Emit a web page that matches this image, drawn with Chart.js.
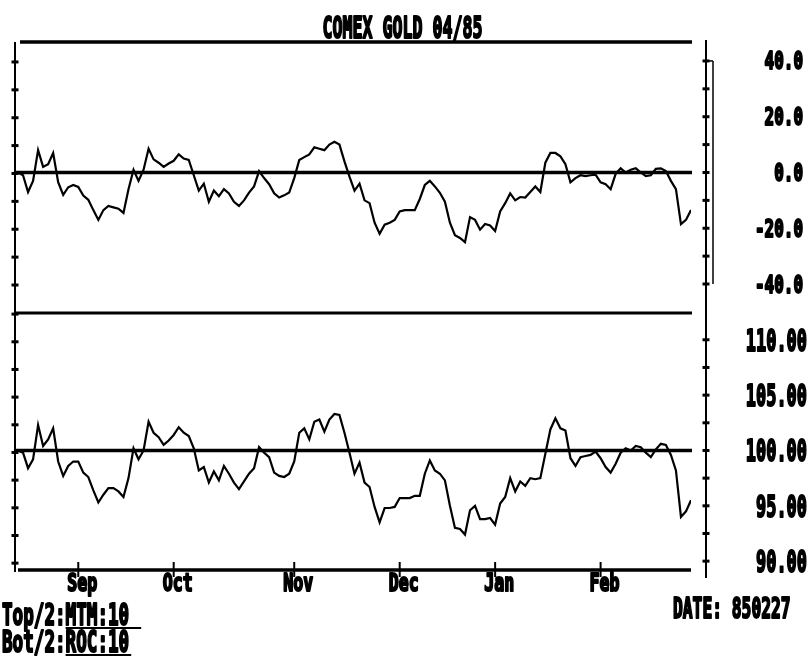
<!DOCTYPE html>
<html><head><meta charset="utf-8">
<script src="https://cdn.jsdelivr.net/npm/chart.js@4/dist/chart.umd.min.js"></script>
<style>html,body{margin:0;padding:0;background:#fff;}canvas{display:block;}</style>
</head><body>
<canvas id="c" width="809" height="656"></canvas>
<script>
// ---- data (one value per trading day) ----
const title = 'COMEX GOLD 04/85';
const mtm = [
 0, -1, -7, -3, 8, 2, 3, 7, -3.5, -8,
 -5.3, -4.5, -5.2, -8.3, -9.8, -13.5, -17, -13.5, -12, -12.5,
 -13, -14.5, -6, 1, -3, 1, 8.5, 4.7, 3.5, 2,
 3.2, 4.2, 6.5, 5, 4.5, -1, -6.5, -4, -10.5, -6.5,
 -8.5, -6, -7.5, -10.5, -12, -10, -7.2, -5, 0.5, -2,
 -4.2, -7.5, -9, -8.2, -7.2, -2, 4.5, 5.5, 6.5, 9,
 8.5, 8, 10, 11, 10, 4, -1.5, -6.5, -4, -10,
 -11, -18, -22, -18.7, -18, -17, -14, -13.5, -13.5, -13.5,
 -9.5, -4.5, -3, -5, -7.3, -10.5, -18, -22.5, -23.5, -25,
 -16, -17, -20.5, -18.5, -19, -21, -14, -11, -7.5, -10,
 -8.8, -9, -7, -5, -7, 3.5, 7, 7, 5.8, 3,
 -3.5, -2, -1, -1.3, -1, -0.8, -3.5, -4.2, -6, -0.5,
 1.5, 0, 1, 1.5, 0, -1.3, -1, 1.3, 1.5, 0.5,
 -3, -6, -18.5, -17, -13.5
];
const roc = [
 100, 99.8, 98.4, 99.2, 102.3, 100.4, 101, 102, 99, 97.7,
 98.6, 99, 99, 98, 97.6, 96.4, 95.3, 96, 96.6, 96.6,
 96.3, 95.8, 97.5, 100.2, 99.2, 100, 102.6, 101.6, 101.2, 100.5,
 100.9, 101.4, 102.1, 101.6, 101.3, 100.2, 98.2, 98.5, 97.1, 98.1,
 97.3, 98.6, 97.9, 97.1, 96.5, 97.2, 97.9, 98.4, 100.3, 99.8,
 99.4, 98, 97.7, 97.6, 97.9, 99, 101.6, 102, 101, 102.6,
 102.8, 101.7, 102.8, 103.3, 103.2, 101.6, 99.8, 97.9, 98.9, 97.1,
 96.7, 94.9, 93.5, 94.8, 94.8, 94.9, 95.7, 95.7, 95.7, 95.9,
 95.9, 97.9, 99.1, 98.2, 97.9, 97.3, 95, 93, 92.9, 92.4,
 94.6, 95, 93.8, 93.8, 93.9, 93.3, 95.2, 95.8, 97.5, 96.3,
 97.2, 96.8, 97.5, 97.4, 97.5, 99.7, 101.9, 102.9, 102, 101.8,
 99.3, 98.6, 99.4, 99.5, 99.6, 99.9, 99.3, 98.5, 98, 98.8,
 99.8, 100.2, 100, 100.4, 100.3, 99.8, 99.4, 100.1, 100.6, 100.5,
 99.6, 98.2, 94, 94.5, 95.5
];
const monthLabels = ['Sep', 'Oct', 'Nov', 'Dec', 'Jan', 'Feb'];
const monthStartIndex = [12, 31, 55, 76, 95, 116];
const topTickLabels = [40, 20, 0, -20, -40];
const topMinorTicks = [40, 30, 20, 10, 0, -10, -20, -30, -40];
const botTickLabels = [110, 105, 100, 95, 90];
const botMinorTicks = [112.5, 110, 107.5, 105, 102.5, 100, 97.5, 95, 92.5, 90];
const topRef = 0, botRef = 100;
const legendTop = ['Top/2:', 'MTM:10'];
const legendBot = ['Bot/2:', 'ROC:10'];
const dateLabel = 'DATE: 850227';

// ---- drawing helpers ----
const FONT = '"DejaVu Sans Mono", "Liberation Mono", monospace';
function txt(ctx, s, x, y, align, size, adv) {
  ctx.save();
  ctx.font = 'bold ' + size + 'px ' + FONT;
  ctx.textBaseline = 'alphabetic';
  ctx.textAlign = 'left';
  const sx = adv / ctx.measureText('0').width;
  const w = ctx.measureText(s).width * sx;
  const x0 = align === 'center' ? x - w / 2 : align === 'right' ? x - w : x;
  ctx.translate(x0, y);
  ctx.scale(sx, 1);
  ctx.fillStyle = '#000';
  ctx.strokeStyle = '#000';
  ctx.lineWidth = 2.2;
  ctx.lineJoin = 'round';
  ctx.strokeText(s, 0, 0);
  ctx.fillText(s, 0, 0);
  ctx.restore();
  return w;
}
function hline(ctx, x1, x2, y, w) { ctx.lineWidth = w; ctx.beginPath(); ctx.moveTo(x1, y); ctx.lineTo(x2, y); ctx.stroke(); }
function vline(ctx, x, y1, y2, w) { ctx.lineWidth = w; ctx.beginPath(); ctx.moveTo(x, y1); ctx.lineTo(x, y2); ctx.stroke(); }

const decor = {
  id: 'decor',
  beforeDatasetsDraw(chart) {
    const ctx = chart.ctx, a = chart.chartArea;
    const yT = chart.scales.yTop, yB = chart.scales.yBot, xs = chart.scales.x;
    ctx.save();
    ctx.strokeStyle = '#000';
    // panel frame lines
    hline(ctx, a.left + 2, a.right + 1, yT.top, 3.5);
    hline(ctx, a.left - 3, a.right + 1, yT.bottom, 3);
    hline(ctx, a.left - 3, a.right + 1, yT.getPixelForValue(topRef), 3.5);
    hline(ctx, a.left - 4, a.right + 1, yB.getPixelForValue(botRef), 3.5);
    hline(ctx, a.left, a.right, yB.bottom, 3.5);
    // left axis
    const lx = a.left - 3;
    vline(ctx, lx, yT.top, yB.bottom + 2, 2);
    topMinorTicks.forEach(v => hline(ctx, lx - 3.5, lx + 3.5, yT.getPixelForValue(v) + 1, 3));
    botMinorTicks.forEach(v => hline(ctx, lx - 3.5, lx + 3.5, yB.getPixelForValue(v) + 2, 3));
    // right axis
    const rx = a.right + 15;
    vline(ctx, rx, yT.top - 2, yB.bottom + 8, 2);
    topMinorTicks.forEach(v => hline(ctx, rx - 3.5, rx + 3.5, yT.getPixelForValue(v), 3));
    botMinorTicks.filter(v => v <= 110).forEach(v => hline(ctx, rx - 3.5, rx + 3.5, yB.getPixelForValue(v), 3));
    // bracket beside the top scale
    const b1 = yT.getPixelForValue(topTickLabels[0]), b2 = yT.getPixelForValue(topTickLabels[topTickLabels.length - 1]);
    vline(ctx, rx + 7, b1, b2, 1.5);
    hline(ctx, rx, rx + 7, b1, 1.5);
    // month ticks
    monthStartIndex.forEach(i => vline(ctx, xs.getPixelForValue(i), yB.bottom - 8, yB.bottom + 7, 2));
    ctx.restore();
  },
  afterDraw(chart) {
    const ctx = chart.ctx, a = chart.chartArea;
    const yT = chart.scales.yTop, yB = chart.scales.yBot, xs = chart.scales.x;
    // title
    txt(ctx, title, (a.left + a.right) / 2 + 48, 38, 'center', 30, 10);
    // right tick labels
    topTickLabels.forEach(v => txt(ctx, v.toFixed(1), 803, yT.getPixelForValue(v) + 8.5, 'right', 24, 9.6));
    botTickLabels.forEach(v => txt(ctx, v.toFixed(2), 807, yB.getPixelForValue(v) + 11, 'right', 30, 10.2));
    // month labels
    monthLabels.forEach((m, j) => txt(ctx, m, xs.getPixelForValue(monthStartIndex[j]) + 4, yB.bottom + 21, 'center', 25, 10));
    // legend lines
    const lx = 2;
    const w1 = txt(ctx, legendTop[0], lx, 625, 'left', 30, 10.6);
    const w2 = txt(ctx, legendTop[1], lx + w1, 625, 'left', 30, 10.6);
    ctx.save(); ctx.strokeStyle = '#000';
    hline(ctx, lx + w1, lx + w1 + w2 + 12, 628, 2);
    const w3 = txt(ctx, legendBot[0], lx, 652, 'left', 30, 10.6);
    const w4 = txt(ctx, legendBot[1], lx + w3, 652, 'left', 30, 10.6);
    hline(ctx, lx + w3, lx + w3 + w4 + 2, 655, 2);
    ctx.restore();
    // date
    txt(ctx, dateLabel, 673, 618, 'left', 28, 9.8);
  }
};

new Chart(document.getElementById('c').getContext('2d'), {
  type: 'line',
  data: {
    datasets: [
      { label: legendTop[1], data: mtm.map((v, i) => ({ x: i, y: v })), yAxisID: 'yTop',
        borderColor: '#000', borderWidth: 2.2, pointRadius: 0, tension: 0, fill: false },
      { label: legendBot[1], data: roc.map((v, i) => ({ x: i, y: v })), yAxisID: 'yBot',
        borderColor: '#000', borderWidth: 2.2, pointRadius: 0, tension: 0, fill: false }
    ]
  },
  options: {
    responsive: false, animation: false, devicePixelRatio: 1,
    layout: { padding: { left: 18, top: 42, right: 0, bottom: 0 } },
    plugins: { legend: { display: false }, tooltip: { enabled: false }, title: { display: false } },
    scales: {
      x: { type: 'linear', min: 0, max: mtm.length - 1, grid: { display: false }, border: { display: false },
           ticks: { display: false }, afterFit(s) { s.height = 86; } },
      yTop: { type: 'linear', position: 'right', stack: 'panels', stackWeight: 271, min: -50.4, max: 46.8,
              grid: { display: false }, border: { display: false }, ticks: { display: false },
              afterFit(s) { s.width = 118; } },
      yBot: { type: 'linear', position: 'right', stack: 'panels', stackWeight: 257, min: 89.2, max: 112.42,
              grid: { display: false }, border: { display: false }, ticks: { display: false },
              afterFit(s) { s.width = 118; } }
    }
  },
  plugins: [decor]
});
</script>
</body></html>
